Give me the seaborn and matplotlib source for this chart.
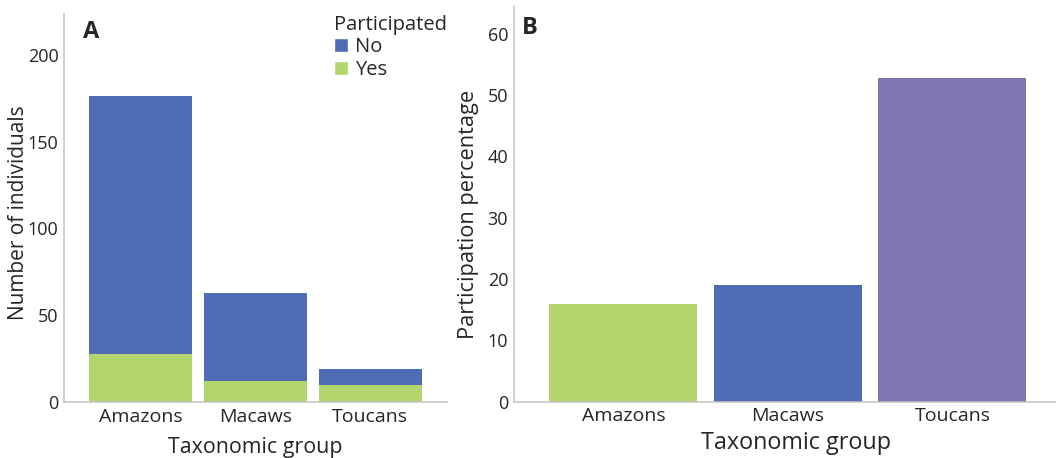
import matplotlib
matplotlib.use("Agg")
import matplotlib.pyplot as plt
from matplotlib.patches import Patch
import seaborn as sns
import pandas as pd

# Counts of individuals per taxonomic group, split by participation
groups = ["Amazons", "Macaws", "Toucans"]
participated_yes = [28, 12, 10]
participated_no = [148, 51, 9]

# Participation percentage per group
participation_pct = [16.0, 19.1, 52.8]

BLUE = "#4f6cb4"
GREEN = "#b3d56e"
PURPLE = "#8176b4"
SPINE = "#c4c4c4"
TEXT = "#262626"

sns.set_theme(style="white")
plt.rcParams["font.family"] = ["Open Sans", "DejaVu Sans"]
plt.rcParams["text.color"] = TEXT
plt.rcParams["axes.labelcolor"] = TEXT
plt.rcParams["xtick.color"] = TEXT
plt.rcParams["ytick.color"] = TEXT

fig = plt.figure(figsize=(10.56, 4.58), dpi=100)
ax_a = fig.add_axes([0.0606, 0.1216, 0.3624, 0.8478])
ax_b = fig.add_axes([0.4865, 0.1229, 0.5192, 0.8640])

counts = pd.DataFrame({
    "group": groups,
    "yes": participated_yes,
    "total": [y + n for y, n in zip(participated_yes, participated_no)],
})

# Panel A: stacked bars (total in blue, "Yes" share overlaid in green)
sns.barplot(data=counts, x="group", y="total", color=BLUE, saturation=1,
            width=0.9, linewidth=0, ax=ax_a)
sns.barplot(data=counts, x="group", y="yes", color=GREEN, saturation=1,
            width=0.9, linewidth=0, ax=ax_a)
ax_a.set_xlim(-0.665, 2.665)
ax_a.set_ylim(0, 223.4)
ax_a.set_yticks([0, 50, 100, 150, 200])
ax_a.set_ylabel("Number of individuals", fontsize=15, labelpad=-1)
ax_a.yaxis.label.set_y(0.488)
ax_a.set_xlabel("Taxonomic group", fontsize=15.4, labelpad=8)
ax_a.text(0.05, 0.985, "A", transform=ax_a.transAxes, fontsize=17,
          fontweight="bold", ha="left", va="top")

handles = [Patch(facecolor=BLUE, label="No"), Patch(facecolor=GREEN, label="Yes")]
ax_a.legend(handles=handles, title="Participated", loc="upper left",
            bbox_to_anchor=(0.705, 0.998), frameon=False, fontsize=14.5,
            title_fontsize=14.5, alignment="left", handlelength=0.7,
            handleheight=0.7, handletextpad=0.35, labelspacing=0.12,
            borderpad=0, borderaxespad=0)

# Panel B: participation percentage per group
pct = pd.DataFrame({"group": groups, "pct": participation_pct})
sns.barplot(data=pct, x="group", y="pct", hue="group",
            palette=[GREEN, BLUE, PURPLE], saturation=1, width=0.9,
            linewidth=0, legend=False, ax=ax_b)
ax_b.set_xlim(-0.666, 2.666)
ax_b.set_ylim(0, 64.5)
ax_b.set_yticks([0, 10, 20, 30, 40, 50, 60])
ax_b.set_ylabel("Participation percentage", fontsize=15.7, labelpad=6)
ax_b.yaxis.label.set_y(0.472)
ax_b.set_xlabel("Taxonomic group", fontsize=16.8, labelpad=4)
ax_b.xaxis.label.set_x(0.515)
ax_b.text(0.015, 0.975, "B", transform=ax_b.transAxes, fontsize=17,
          fontweight="bold", ha="left", va="top")

for ax in (ax_a, ax_b):
    sns.despine(ax=ax)
    for side in ("left", "bottom"):
        ax.spines[side].set_color(SPINE)
        ax.spines[side].set_linewidth(1.1)
    ax.tick_params(axis="both", length=0, pad=4)
    ax.tick_params(axis="x", labelsize=14)
    ax.tick_params(axis="y", labelsize=13)

fig.savefig("out.png", dpi=100)
